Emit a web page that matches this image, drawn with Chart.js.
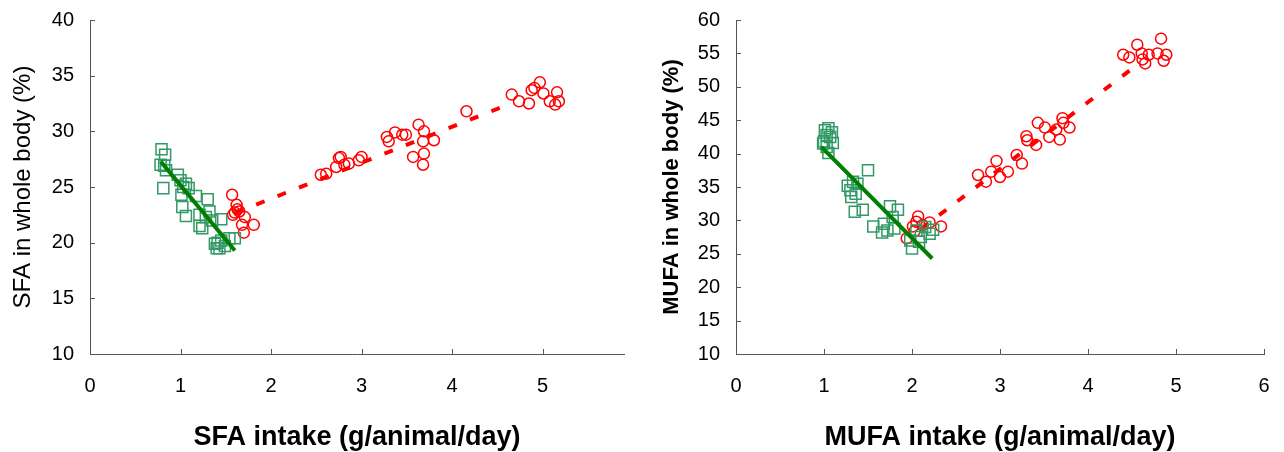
<!DOCTYPE html>
<html>
<head>
<meta charset="utf-8">
<script src="https://cdn.jsdelivr.net/npm/chart.js@4"></script>
<style>
  body { margin: 0; background: #fff; }
  .box { position: absolute; top: 0; width: 642px; height: 452px; }
</style>
</head>
<body>
<div class="box" style="left:0"><canvas id="sfa"></canvas></div>
<div class="box" style="left:642px"><canvas id="mufa"></canvas></div>
<script>
// SFA panel
var sfaLowX = [0.79, 0.83, 0.78, 0.84, 0.82, 0.81, 0.97, 1.00, 1.03, 1.06, 1.09, 1.01, 1.02, 1.06, 1.17, 1.30,
  1.21, 1.32, 1.24, 1.35, 1.21, 1.45, 1.41, 1.43, 1.49, 1.54, 1.60, 1.45, 1.40, 1.38, 1.28];
var sfaLowY = [28.4, 27.9, 27.0, 26.5, 26.9, 24.9, 26.1, 25.6, 25.0, 25.3, 24.9, 24.3, 23.2, 22.4, 24.2, 23.9,
  22.5, 22.8, 21.3, 22.0, 21.5, 22.1, 20.0, 19.5, 19.7, 20.4, 20.4, 20.2, 19.5, 19.9, 22.3];
var sfaHighX = [1.57, 1.62, 1.60, 1.65, 1.71, 1.58, 1.63, 1.68, 1.81, 1.70, 2.55, 2.61, 2.72, 2.75, 2.77, 2.81,
  2.86, 2.97, 3.00, 3.28, 3.30, 3.37, 3.45, 3.49, 3.63, 3.69, 3.80, 3.68, 3.69, 3.57, 3.68, 4.16,
  4.66, 4.74, 4.85, 4.88, 4.91, 4.97, 5.01, 5.16, 5.08, 5.14, 5.18];
var sfaHighY = [24.3, 23.4, 22.7, 22.8, 22.3, 22.5, 23.0, 21.6, 21.6, 20.9, 26.1, 26.2, 26.8, 27.6, 27.7, 27.0,
  27.1, 27.4, 27.7, 29.5, 29.1, 29.9, 29.7, 29.7, 30.6, 30.0, 29.2, 29.1, 28.0, 27.7, 27.0, 31.8,
  33.3, 32.7, 32.5, 33.7, 33.9, 34.4, 33.4, 33.5, 32.7, 32.4, 32.7];
var sfaLowFitX = [0.78, 1.60];
var sfaLowFitY = [27.3, 19.3];
var sfaHighFitX = [1.60, 4.65];
var sfaHighFitY = [22.66, 32.5];

// MUFA panel
var mufaLowX = [1.01, 1.05, 1.09, 1.03, 1.07, 0.99, 1.03, 1.10, 1.05, 1.00, 1.27, 1.30, 1.33, 1.36, 1.31, 1.38,
  1.50, 1.35, 1.44, 1.56, 1.75, 1.84, 1.68, 1.72, 1.78, 1.80, 1.66, 1.98, 2.05, 2.10, 2.15, 2.20,
  2.24, 2.00, 2.08];
var mufaLowY = [43.5, 43.8, 43.2, 42.8, 42.5, 41.5, 41.0, 41.6, 40.1, 41.8, 35.2, 34.5, 35.8, 34.0, 33.5, 35.5,
  37.5, 31.3, 31.6, 29.1, 32.1, 31.6, 29.5, 28.5, 30.5, 28.8, 28.2, 27.0, 28.5, 27.5, 29.0, 28.0,
  28.6, 25.8, 26.8];
var mufaHighX = [2.07, 2.05, 2.20, 2.33, 1.94, 2.01, 2.12, 2.03, 2.75, 2.84, 2.90, 2.96, 3.00, 3.09, 3.19, 3.25,
  3.30, 3.31, 3.41, 3.43, 3.51, 3.56, 3.64, 3.68, 3.71, 3.72, 3.79, 4.40, 4.47, 4.56, 4.61, 4.65,
  4.62, 4.69, 4.79, 4.83, 4.89, 4.86];
var mufaHighY = [30.6, 29.8, 29.7, 29.1, 27.3, 29.1, 29.3, 28.4, 36.8, 35.8, 37.3, 38.9, 36.5, 37.3, 39.8, 38.5,
  42.6, 42.0, 41.3, 44.6, 43.9, 42.5, 43.6, 42.1, 45.3, 44.6, 43.9, 54.8, 54.4, 56.3, 55.0, 53.5,
  54.1, 54.8, 55.0, 57.2, 54.8, 53.9];
var mufaLowFitX = [0.97, 2.23];
var mufaLowFitY = [41.0, 24.3];
var mufaHighFitX = [2.10, 4.60];
var mufaHighFitY = [28.7, 53.7];

var FONT = "'Liberation Sans', Arial, sans-serif";

function pts(xs, ys) {
  return xs.map(function (x, i) { return { x: x, y: ys[i] }; });
}

// short tick marks drawn inward from the axis lines
var innerTicks = {
  id: 'innerTicks',
  afterDraw: function (chart) {
    var ctx = chart.ctx, a = chart.chartArea;
    ctx.save();
    ctx.strokeStyle = '#555';
    ctx.lineWidth = 1;
    ctx.beginPath();
    chart.scales.x.ticks.forEach(function (t) {
      var px = Math.round(chart.scales.x.getPixelForValue(t.value)) + 0.5;
      ctx.moveTo(px, a.bottom);
      ctx.lineTo(px, a.bottom - 5);
    });
    chart.scales.y.ticks.forEach(function (t) {
      var py = Math.round(chart.scales.y.getPixelForValue(t.value)) + 0.5;
      ctx.moveTo(a.left, py);
      ctx.lineTo(a.left + 5, py);
    });
    ctx.stroke();
    ctx.restore();
  }
};

function makeChart(id, o) {
  new Chart(document.getElementById(id), {
    type: 'scatter',
    data: {
      datasets: [
        {
          data: pts(o.lowFitX, o.lowFitY), showLine: true, borderColor: '#008000', borderWidth: 4,
          pointRadius: 0, order: 0
        },
        {
          data: pts(o.lowX, o.lowY), pointStyle: 'rect', pointRadius: 7.8, borderColor: '#339966',
          backgroundColor: 'rgba(0,0,0,0)', borderWidth: 1.5, order: 1
        },
        {
          data: pts(o.highX, o.highY), pointStyle: 'circle', pointRadius: 5.5, borderColor: '#ff0000',
          backgroundColor: 'rgba(0,0,0,0)', borderWidth: 1.5, order: 2
        },
        {
          data: pts(o.highFitX, o.highFitY), showLine: true, borderColor: '#ff0000', borderWidth: 4,
          borderDash: [9, 14], pointRadius: 0, order: 3
        }
      ]
    },
    options: {
      responsive: true,
      maintainAspectRatio: false,
      animation: false,
      layout: { padding: { top: 20, right: o.padRight, left: 0, bottom: 0 } },
      plugins: { legend: { display: false }, tooltip: { enabled: false } },
      scales: {
        x: {
          type: 'linear', min: 0, max: o.xMax,
          afterFit: function (s) { s.height = 98; s.paddingLeft = 0; s.paddingRight = 0; },
          border: { display: true, color: '#555', width: 1 },
          grid: { display: false, drawTicks: false },
          ticks: { stepSize: 1, includeBounds: false, padding: 20, color: '#000', font: { family: FONT, size: 20 } },
          title: {
            display: true, text: o.xTitle, color: '#000', padding: { top: 0, bottom: 1 },
            font: { family: FONT, size: 27, weight: 'bold', lineHeight: 1 }
          }
        },
        y: {
          type: 'linear', min: 10, max: o.yMax,
          afterFit: function (s) { s.width = o.yWidth; s.paddingTop = 0; s.paddingBottom = 0; },
          border: { display: true, color: '#555', width: 1 },
          grid: { display: false, drawTicks: false },
          ticks: { stepSize: 5, padding: 16, color: '#000', font: { family: FONT, size: 20 } },
          title: {
            display: true, text: o.yTitle, color: '#000', padding: { top: o.yTitlePad, bottom: 0 },
            font: { family: FONT, size: o.yTitleSize, weight: o.yTitleWeight }
          }
        }
      }
    },
    plugins: [innerTicks]
  });
}

makeChart('sfa', {
  lowX: sfaLowX, lowY: sfaLowY, highX: sfaHighX, highY: sfaHighY,
  lowFitX: sfaLowFitX, lowFitY: sfaLowFitY, highFitX: sfaHighFitX, highFitY: sfaHighFitY,
  xMax: 5.9, yMax: 40, yWidth: 90, padRight: 18, yTitlePad: 9, yTitleSize: 24, yTitleWeight: 'normal',
  xTitle: 'SFA intake (g/animal/day)', yTitle: 'SFA in whole body (%)'
});

makeChart('mufa', {
  lowX: mufaLowX, lowY: mufaLowY, highX: mufaHighX, highY: mufaHighY,
  lowFitX: mufaLowFitX, lowFitY: mufaLowFitY, highFitX: mufaHighFitX, highFitY: mufaHighFitY,
  xMax: 6, yMax: 60, yWidth: 94, padRight: 20, yTitlePad: 17, yTitleSize: 22, yTitleWeight: 'bold',
  xTitle: 'MUFA intake (g/animal/day)', yTitle: 'MUFA in whole body (%)'
});
</script>
</body>
</html>
